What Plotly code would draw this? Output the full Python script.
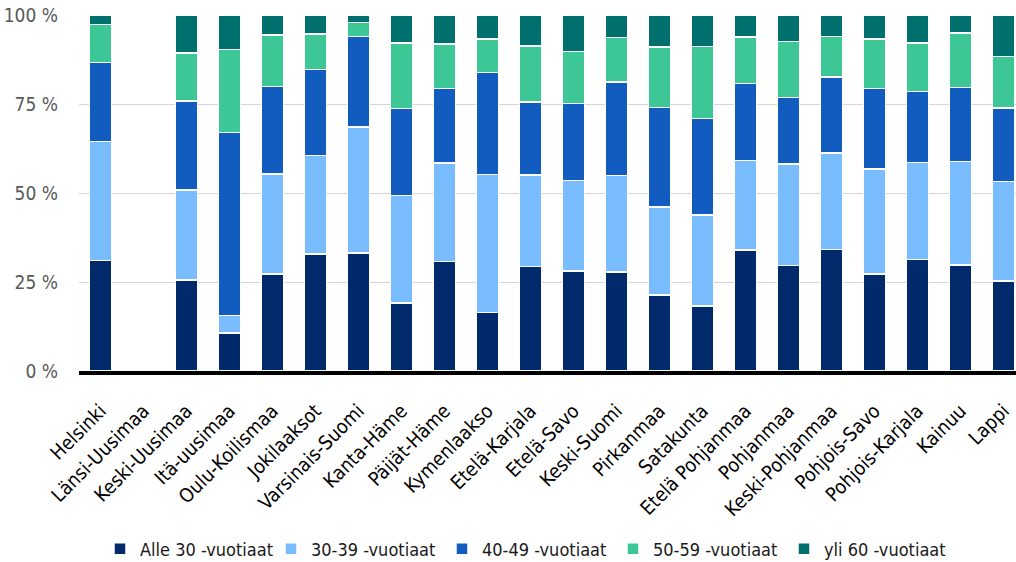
import plotly.graph_objects as go

regions = [
    "Helsinki", "Länsi-Uusimaa", "Keski-Uusimaa", "Itä-uusimaa", "Oulu-Koilismaa",
    "Jokilaaksot", "Varsinais-Suomi", "Kanta-Häme", "Päijät-Häme", "Kymenlaakso",
    "Etelä-Karjala", "Etelä-Savo", "Keski-Suomi", "Pirkanmaa", "Satakunta",
    "Etelä Pohjanmaa", "Pohjanmaa", "Keski-Pohjanmaa", "Pohjois-Savo",
    "Pohjois-Karjala", "Kainuu", "Lappi",
]

# Share of each age group (%), Länsi-Uusimaa has no data
alle_30 = [31.1, None, 25.5, 10.7, 27.3, 32.8, 33.1, 19.1, 30.8, 16.4, 29.4,
           28.1, 27.8, 21.4, 18.2, 34.0, 29.6, 34.2, 27.2, 31.3, 29.8, 25.3]
v30_39 = [33.4, None, 25.4, 4.9, 28.0, 27.8, 35.4, 30.2, 27.6, 38.8, 25.6,
          25.4, 27.1, 24.7, 25.6, 25.1, 28.6, 27.1, 29.6, 27.3, 29.0, 27.9]
v40_49 = [22.1, None, 25.0, 51.4, 24.6, 24.1, 25.4, 24.4, 20.9, 28.7, 20.6,
          21.6, 26.3, 27.9, 27.1, 21.7, 18.6, 21.3, 22.5, 19.9, 20.8, 20.7]
v50_59 = [10.8, None, 13.4, 23.3, 14.5, 10.0, 4.0, 18.5, 12.6, 9.3, 15.7,
          14.7, 12.5, 17.0, 20.2, 13.0, 15.8, 11.3, 13.9, 13.6, 15.4, 14.4]
yli_60 = [2.6, None, 10.7, 9.7, 5.6, 5.3, 2.1, 7.8, 8.1, 6.8, 8.7,
          10.2, 6.3, 9.0, 8.9, 6.2, 7.4, 6.1, 6.8, 7.9, 5.0, 11.7]

y_ticks = [0, 25, 50, 75, 100]
y_tick_labels = ["0 %", "25 %", "50 %", "75 %", "100 %"]

series = [
    ("Alle 30 -vuotiaat", alle_30, "#002A6C"),
    ("30-39 -vuotiaat", v30_39, "#7ABDFE"),
    ("40-49 -vuotiaat", v40_49, "#125BBF"),
    ("50-59 -vuotiaat", v50_59, "#3DC796"),
    ("yli 60 -vuotiaat", yli_60, "#00706E"),
]

FONT = "DejaVu Sans Condensed, sans-serif"

fig = go.Figure()
for name, vals, color in series:
    fig.add_trace(go.Bar(
        name=name, x=regions, y=vals,
        marker=dict(color=color, line=dict(color="white", width=1.5)),
    ))

fig.update_layout(
    barmode="stack",
    bargap=0.48,
    width=1016, height=562,
    margin=dict(l=79, r=0, t=15, b=191, autoexpand=False),
    paper_bgcolor="white", plot_bgcolor="white",
    font=dict(family=FONT, size=18, color="#000000"),
    legend=dict(
        orientation="h", x=0.0224, xanchor="left", y=-0.5, yanchor="middle",
        font=dict(family=FONT, size=18, color="#1a1a1a"),
        traceorder="normal", entrywidth=126,
    ),
    showlegend=True,
)
fig.update_xaxes(
    type="category", range=[-0.5, 21.29], tickangle=-45,
    tickfont=dict(family=FONT, size=19.5, color="#000000"),
    showline=True, linecolor="#000000", linewidth=3.5,
    ticks="", showgrid=False, automargin=False, ticklabelstandoff=17,
)
fig.update_yaxes(
    range=[0, 100], tickmode="array", tickvals=y_ticks, ticktext=y_tick_labels,
    tickfont=dict(family=FONT, size=19, color="#595959"),
    showgrid=True, gridcolor="#D6D6D6", gridwidth=1.2,
    zeroline=False, ticklabelstandoff=20, automargin=False,
)

fig.write_html("out.html")
